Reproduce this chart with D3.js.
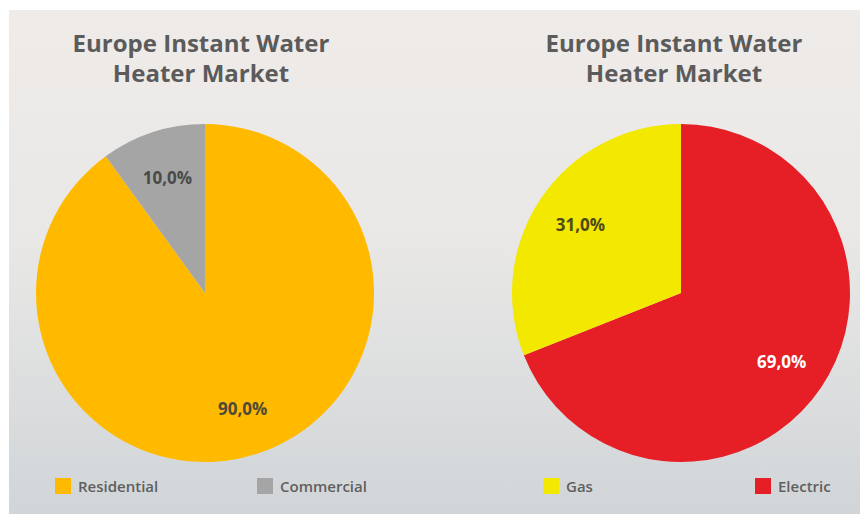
<!DOCTYPE html>
<html>
<head>
<meta charset="utf-8">
<script src="https://cdn.jsdelivr.net/npm/d3@7/dist/d3.min.js"></script>
<style>
  html, body { margin: 0; padding: 0; background: #ffffff; }
  svg { display: block; }
  text { font-family: "Open Sans", "Noto Sans", sans-serif; }
</style>
</head>
<body>
<svg id="chart" width="860" height="514"></svg>
<script>
// Market split by segment and by heater type
const title = ["Europe Instant Water", "Heater Market"];
const segmentLabels = ["Residential", "Commercial"];
const segmentValues = [90.0, 10.0];
const typeLabels = ["Electric", "Gas"];
const typeValues = [69.0, 31.0];
const legendOrderSegment = ["Residential", "Commercial"];
const legendOrderType = ["Gas", "Electric"];

const colors = {
  Residential: "#ffba00",
  Commercial: "#a5a5a5",
  Gas: "#f2e800",
  Electric: "#e61e26"
};
const labelColors = {
  Residential: "#4d4a3a",
  Commercial: "#4a4a4a",
  Gas: "#4d4a1a",
  Electric: "#ffffff"
};

const svg = d3.select("#chart");
const W = 860, H = 514;

// panel background with a soft vertical gradient
const defs = svg.append("defs");
const grad = defs.append("linearGradient").attr("id", "bg").attr("x1", 0).attr("y1", 0).attr("x2", 0).attr("y2", 1);
grad.append("stop").attr("offset", "0%").attr("stop-color", "#efebe9");
grad.append("stop").attr("offset", "45%").attr("stop-color", "#e9e8e6");
grad.append("stop").attr("offset", "100%").attr("stop-color", "#d1d5d8");

svg.append("rect").attr("width", W).attr("height", H).attr("fill", "#ffffff");
svg.append("rect").attr("x", 9).attr("y", 10).attr("width", W - 9).attr("height", H - 10).attr("fill", "url(#bg)");

const fmt = v => d3.format(".1f")(v).replace(".", ",") + "%";

function drawPie(cx, titleX, labels, values, legendOrder, legendX) {
  const g = svg.append("g");
  // title
  const t = g.append("text")
    .attr("x", titleX).attr("y", 52)
    .attr("text-anchor", "middle")
    .attr("fill", "#5b5b5b")
    .attr("font-size", 24).attr("font-weight", 700);
  title.forEach((line, i) => {
    t.append("tspan").attr("x", titleX).attr("dy", i === 0 ? 0 : 30).text(line);
  });

  const r = 169, cy = 293;
  const data = labels.map((l, i) => ({ label: l, value: values[i] }));
  const pie = d3.pie().sort(null).value(d => d.value);
  const arc = d3.arc().innerRadius(0).outerRadius(r);
  const labelArc = d3.arc().innerRadius(r * 0.72).outerRadius(r * 0.72);
  const arcs = pie(data);

  const pg = g.append("g").attr("transform", `translate(${cx},${cy})`);
  pg.selectAll("path").data(arcs).join("path")
    .attr("d", arc)
    .attr("fill", d => colors[d.data.label]);

  pg.selectAll("text").data(arcs).join("text")
    .attr("transform", d => `translate(${labelArc.centroid(d)})`)
    .attr("text-anchor", "middle")
    .attr("dominant-baseline", "central")
    .attr("font-size", 17).attr("font-weight", 700)
    .attr("fill", d => labelColors[d.data.label])
    .text(d => fmt(d.data.value));

  // legend
  const lg = g.append("g");
  legendOrder.forEach((name, i) => {
    const x = legendX[i];
    lg.append("rect").attr("x", x).attr("y", 478).attr("width", 16).attr("height", 16)
      .attr("fill", colors[name]);
    lg.append("text").attr("x", x + 23).attr("y", 492)
      .attr("font-size", 15).attr("font-weight", 600).attr("fill", "#5f5f5f")
      .text(name);
  });
}

drawPie(205, 201, segmentLabels, segmentValues, legendOrderSegment, [55, 257]);
drawPie(681, 674, typeLabels, typeValues, legendOrderType, [543, 755]);
</script>
</body>
</html>
